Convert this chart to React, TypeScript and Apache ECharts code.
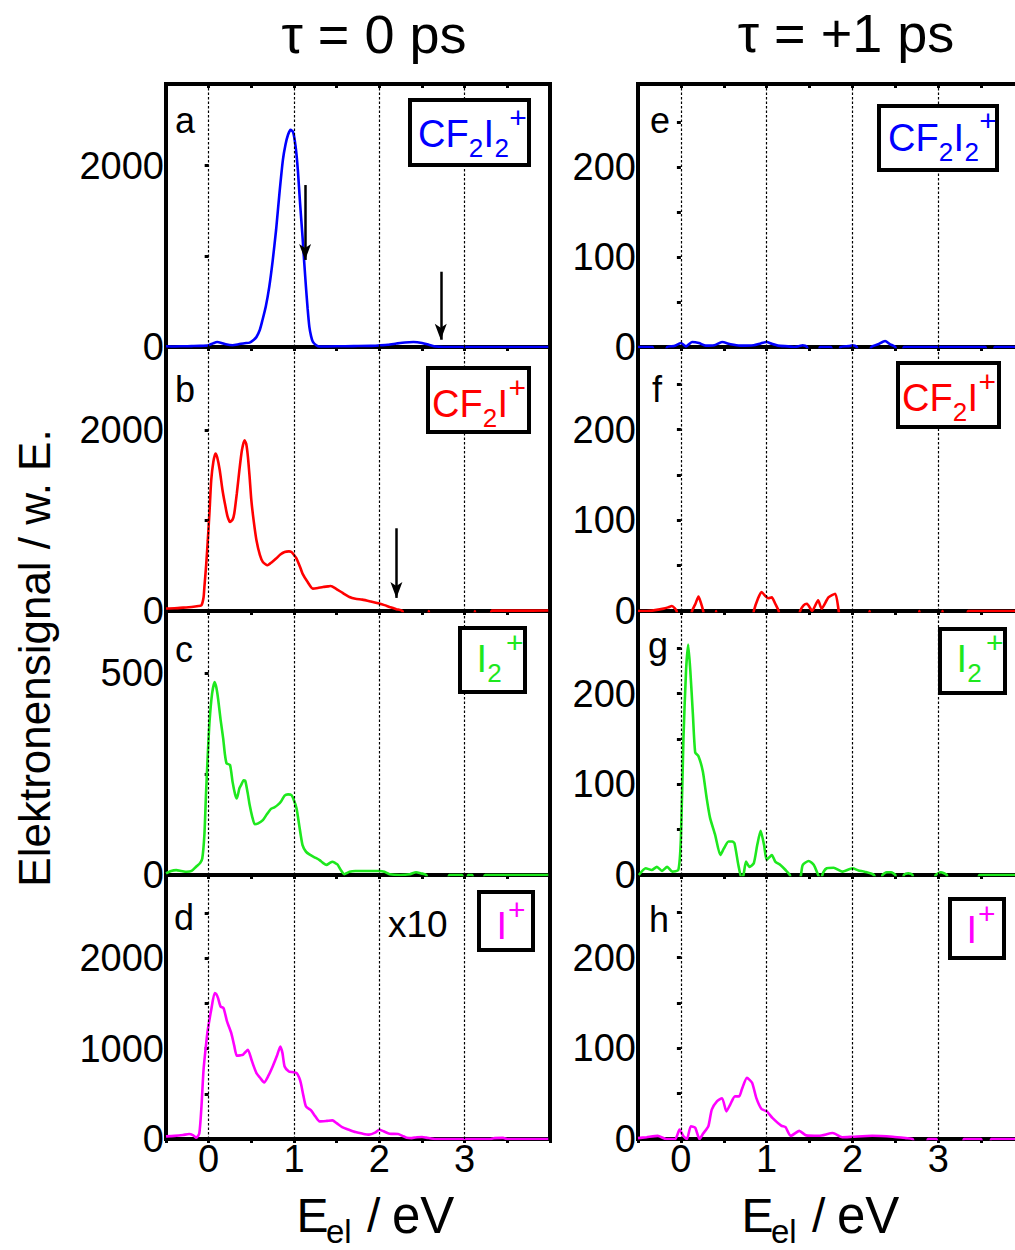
import React, { useEffect, useRef } from 'react';
import * as echarts from 'echarts';

type P = [number, number];

// ---------- data ----------
const xTickValues = [0, 1, 2, 3];
const columnTitles = ['τ = 0 ps', 'τ = +1 ps'];
const panelLetters = ['a', 'b', 'c', 'd', 'e', 'f', 'g', 'h'];
const yMax = [2900, 2920, 655, 2920, 292, 291, 291, 291];
const yTickStep = [1000, 1000, 250, 500, 50, 50, 50, 50];
const yLabelStep = [2000, 2000, 500, 1000, 100, 100, 100, 100];
const ionColors = ['#0000ff', '#ff0000', '#1ee81e', '#ff00ff'];
const scaleNote = 'x10';

// tau = 0 ps
const cf2i2_0: P[] = [
  [-0.5, 8], [-0.4, 6], [-0.3, 8], [-0.2, 10], [-0.1, 12], [0, 20], [0.05, 40], [0.1, 55], [0.15, 45],
  [0.2, 30], [0.28, 20], [0.35, 30], [0.42, 42], [0.48, 48], [0.53, 80], [0.56, 110], [0.6, 190],
  [0.63, 295], [0.67, 450], [0.71, 663], [0.75, 950], [0.79, 1290], [0.83, 1700], [0.87, 2063],
  [0.9, 2230], [0.93, 2340], [0.96, 2395], [0.99, 2370], [1.02, 2200], [1.045, 1953], [1.07, 1600],
  [1.1, 1215], [1.12, 930], [1.14, 663], [1.16, 420], [1.18, 221], [1.2, 120], [1.22, 60], [1.26, 20],
  [1.3, 5], [1.5, 8], [1.7, 10], [1.9, 12], [2.0, 18], [2.1, 25], [2.2, 38], [2.3, 50], [2.4, 55],
  [2.5, 45], [2.58, 25], [2.66, 5], [2.75, 0], [3.0, 0], [3.5, 0], [3.98, 0],
];
const cf2i_0: P[] = [
  [-0.5, 27], [-0.4, 30], [-0.3, 37], [-0.2, 45], [-0.12, 55], [-0.085, 63], [-0.06, 150], [-0.05, 266],
  [-0.03, 500], [-0.01, 783], [0.01, 1100], [0.03, 1447], [0.055, 1650], [0.08, 1742], [0.1, 1700],
  [0.13, 1557], [0.16, 1350], [0.19, 1189], [0.22, 1050], [0.25, 985], [0.28, 1010], [0.3, 1078],
  [0.33, 1300], [0.36, 1557], [0.39, 1780], [0.42, 1889], [0.44, 1850], [0.46, 1705], [0.48, 1480],
  [0.5, 1225], [0.53, 980], [0.56, 783], [0.6, 620], [0.635, 542], [0.69, 506], [0.74, 540], [0.79, 580],
  [0.84, 625], [0.89, 653], [0.94, 660], [0.97, 653], [1.0, 620], [1.03, 580], [1.07, 490], [1.1, 414],
  [1.16, 320], [1.22, 248], [1.28, 255], [1.34, 266], [1.4, 272], [1.43, 277], [1.49, 248], [1.57, 200],
  [1.65, 155], [1.72, 135], [1.8, 126], [1.9, 105], [2.0, 82], [2.06, 65], [2.12, 45], [2.2, 20],
  [2.27, 0], [2.32, -150], [2.55, -150], [2.58, 0], [2.61, -150], [3.09, -150], [3.12, 0], [3.15, -150],
  [3.28, -150], [3.32, 4], [3.6, 4], [3.98, 5],
];
const i2_0: P[] = [
  [-0.5, 4], [-0.44, 10], [-0.38, 12], [-0.32, 10], [-0.26, 8], [-0.2, 10], [-0.145, 21], [-0.1, 30],
  [-0.075, 41], [-0.05, 100], [-0.03, 207], [-0.01, 300], [0.01, 380], [0.04, 450], [0.07, 479],
  [0.09, 465], [0.11, 438], [0.14, 385], [0.17, 339], [0.19, 300], [0.21, 277], [0.25, 273], [0.28, 231],
  [0.31, 200], [0.33, 190], [0.36, 215], [0.38, 223], [0.41, 235], [0.43, 233], [0.46, 200], [0.48, 174],
  [0.51, 145], [0.54, 126], [0.58, 128], [0.635, 136], [0.68, 150], [0.73, 164], [0.77, 168], [0.81, 174],
  [0.85, 183], [0.89, 197], [0.93, 200], [0.97, 198], [1.0, 185], [1.03, 165], [1.06, 125], [1.1, 74],
  [1.14, 58], [1.18, 51], [1.24, 44], [1.3, 37], [1.34, 30], [1.38, 25], [1.42, 30], [1.45, 33],
  [1.48, 30], [1.51, 26], [1.55, 12], [1.59, 2], [1.65, 8], [1.72, 10], [1.85, 10], [2.0, 10], [2.06, 8],
  [2.12, 2], [2.24, 0], [2.36, 2], [2.43, 7], [2.49, 4], [2.55, 0], [2.6, -30], [2.78, -30], [2.82, 0],
  [2.97, 0], [3.0, -30], [3.02, -30], [3.04, 0], [3.09, 0], [3.12, -30], [3.2, -30], [3.24, 0], [3.98, 0],
];
const i_0_x10: P[] = [
  [-0.5, 29], [-0.4, 35], [-0.3, 45], [-0.23, 55], [-0.18, 40], [-0.145, 15], [-0.11, 60], [-0.085, 350],
  [-0.06, 766], [-0.03, 1050], [-0.01, 1208], [0.03, 1429], [0.07, 1613], [0.09, 1600], [0.11, 1558],
  [0.14, 1465], [0.175, 1447], [0.215, 1300], [0.265, 1171], [0.3, 1030], [0.33, 920], [0.37, 925],
  [0.4, 931], [0.43, 960], [0.46, 987], [0.5, 882], [0.53, 800], [0.56, 729], [0.6, 680], [0.65, 626],
  [0.7, 700], [0.75, 802], [0.8, 920], [0.84, 1023], [0.865, 950], [0.89, 802], [0.94, 747], [0.98, 740],
  [1.03, 729], [1.06, 680], [1.08, 619], [1.11, 480], [1.14, 360], [1.2, 316], [1.25, 250], [1.3, 195],
  [1.38, 200], [1.45, 206], [1.5, 175], [1.57, 128], [1.65, 100], [1.72, 77], [1.8, 60], [1.88, 48],
  [1.95, 70], [2.0, 103], [2.05, 85], [2.12, 59], [2.22, 55], [2.27, 35], [2.32, 15], [2.38, 10],
  [2.44, 20], [2.5, 22], [2.55, 15], [2.66, 0], [3.3, 0], [3.35, 10], [3.45, 12], [3.5, 0], [3.98, 0],
];

// tau = +1 ps
const cf2i2_1: P[] = [
  [-0.5, 0], [-0.33, 0], [-0.3, -12], [-0.2, -12], [-0.16, 0], [-0.08, 1], [0, 4.4], [0.06, 0.7],
  [0.13, 5.5], [0.21, 4.4], [0.29, 1.5], [0.39, 2], [0.48, 5.5], [0.58, 3], [0.69, 1.5], [0.85, 2],
  [0.93, 4], [1.0, 5.5], [1.06, 3.5], [1.13, 1.5], [1.25, 0.7], [1.32, 0], [1.38, 1], [1.42, 2],
  [1.47, 0], [1.5, -12], [1.6, -12], [1.62, 0], [1.75, 0], [1.78, -12], [1.84, -12], [1.86, 0],
  [1.96, 1], [2.0, 2], [2.05, 0], [2.08, -12], [2.18, -12], [2.22, 0], [2.3, 3], [2.38, 6.7], [2.44, 3],
  [2.5, 0], [2.52, -12], [2.58, -12], [2.6, 0], [3.55, 0], [3.57, -12], [3.64, -12], [3.66, 0], [3.98, 0],
];
const cf2i_1: P[] = [
  [-0.5, 0], [-0.4, 0], [-0.3, 1], [-0.2, 2.6], [-0.15, 4], [-0.105, 5.5], [-0.07, 3], [-0.05, 0],
  [-0.03, -12], [0.1, -12], [0.13, 0], [0.17, 8], [0.205, 16], [0.23, 10], [0.26, 0], [0.28, -12],
  [0.39, -12], [0.41, 0], [0.43, -12], [0.83, -12], [0.85, 0], [0.9, 14], [0.94, 21], [0.98, 17],
  [1.02, 14], [1.06, 15], [1.1, 8], [1.14, 0], [1.16, -12], [1.36, -12], [1.39, 0], [1.43, 6.3],
  [1.47, 8], [1.53, 0], [1.6, 11.8], [1.64, 2.6], [1.72, 15], [1.8, 19], [1.84, 0], [1.86, -12],
  [2.17, -12], [2.2, 0], [2.23, -12], [2.76, -12], [2.78, 0], [2.8, -12], [3.03, -12], [3.05, 0],
  [3.07, -12], [3.33, -12], [3.35, 0], [3.98, 0],
];
const i2_1: P[] = [
  [-0.49, 0], [-0.41, 7.4], [-0.34, 5.5], [-0.28, 9], [-0.22, 4.4], [-0.16, 9], [-0.1, 3.7], [-0.03, 5.5],
  [0.0, 40], [0.03, 151], [0.06, 225], [0.085, 254], [0.11, 225], [0.14, 177], [0.167, 135], [0.205, 131],
  [0.256, 114], [0.3, 85], [0.34, 63], [0.4, 44], [0.46, 22], [0.5, 29], [0.555, 37], [0.6, 37],
  [0.625, 35], [0.67, 11], [0.71, -5], [0.73, 0], [0.76, 14.7], [0.8, 9], [0.85, 13], [0.89, 33],
  [0.93, 48.6], [0.97, 33], [1.0, 16.6], [1.06, 22], [1.1, 14.7], [1.16, 11], [1.22, 5.5], [1.27, 0],
  [1.3, -12], [1.37, -12], [1.4, 0], [1.42, 11], [1.49, 15.5], [1.55, 11], [1.6, 0], [1.63, -5],
  [1.66, 3], [1.7, 7.4], [1.78, 8], [1.88, 3.7], [2.0, 7.4], [2.07, 5], [2.14, 3.7], [2.25, 0],
  [2.3, -12], [2.33, -12], [2.35, 0], [2.4, 3], [2.45, 3], [2.5, 0], [2.52, -12], [2.58, -12], [2.6, 0],
  [2.65, 2], [2.7, 0], [2.72, -12], [2.94, -12], [2.97, 0], [3.03, 3], [3.1, 0], [3.12, -12],
  [3.45, -12], [3.48, 0], [3.98, 0],
];
const i_1: P[] = [
  [-0.5, 1], [-0.4, 2], [-0.27, 3.4], [-0.17, 0], [-0.066, 0], [-0.016, 10.3], [0.03, 3], [0.07, 0],
  [0.116, 14], [0.167, 12.5], [0.217, 0], [0.26, 6], [0.32, 14], [0.36, 32.4], [0.42, 41.5], [0.48, 45],
  [0.53, 30.5], [0.575, 38], [0.63, 47], [0.68, 47], [0.71, 54.5], [0.77, 67.4], [0.83, 62], [0.88, 45],
  [0.94, 33], [1.0, 30.5], [1.07, 23], [1.17, 14.7], [1.22, 13], [1.28, 3.4], [1.38, 9], [1.46, 4],
  [1.61, 3.5], [1.77, 6.6], [1.88, 2], [2.0, 2.5], [2.23, 3.5], [2.47, 2.5], [2.62, 1], [2.7, 0],
  [2.75, -12], [2.85, -12], [2.88, 0], [2.98, 0], [3.0, -12], [3.28, -12], [3.3, 0], [3.5, 0],
  [3.52, -12], [3.6, -12], [3.62, 0], [3.98, 0],
];

const panelData: P[][] = [cf2i2_0, cf2i_0, i2_0, i_0_x10, cf2i2_1, cf2i_1, i2_1, i_1];

// arrows in panel a and b: [E, top value, tip value]
const arrowsA: number[][] = [[1.13, 1786, 960], [2.72, 830, 80]];
const arrowsB: number[][] = [[2.2, 915, 145]];

// ion labels: pieces of formula (text, kind)
type Piece = { t: string; k: 'm' | 'sub' | 'sup'; dx: number };
const fCF2I2: Piece[] = [
  { t: 'CF', k: 'm', dx: -2 }, { t: '2', k: 'sub', dx: 48.8 }, { t: 'I', k: 'm', dx: 63.5 },
  { t: '2', k: 'sub', dx: 74.5 }, { t: '+', k: 'sup', dx: 89.3 },
];
const fCF2I: Piece[] = [
  { t: 'CF', k: 'm', dx: -2 }, { t: '2', k: 'sub', dx: 48.8 }, { t: 'I', k: 'm', dx: 63.5 },
  { t: '+', k: 'sup', dx: 74.5 },
];
const fI2: Piece[] = [
  { t: 'I', k: 'm', dx: -3.6 }, { t: '2', k: 'sub', dx: 7.2 }, { t: '+', k: 'sup', dx: 26 },
];
const fI: Piece[] = [{ t: 'I', k: 'm', dx: -3.6 }, { t: '+', k: 'sup', dx: 8 }];
const formulas = [fCF2I2, fCF2I, fI2, fI];

// ---------- layout ----------
const FONT = '"Liberation Sans", Arial, Helvetica, sans-serif';
const colLeft = [166, 638];
const colWidth = [384, 386];
const rowTop = [84, 347, 611, 875];
const rowHeight = [263, 264, 264, 264];
const legendBox = [
  [408, 98, 123, 69], [426, 366, 105, 68], [458, 626, 69, 68], [477, 890, 58, 62],
  [877, 104, 122, 68], [896, 361, 105, 68], [938, 627, 69, 68], [948, 897, 58, 63],
];
const legendX = [420, 434, 480, 500, 890, 904, 960, 970];
const legendY = [134, 404, 659, 926, 137.5, 398, 659, 930];
const letterPos = [
  [175, 133], [175, 402], [175, 662], [174, 930], [650, 133], [652, 402], [648, 658], [649, 932],
];

function fontAvailable(name: string): boolean {
  try {
    const c = document.createElement('canvas').getContext('2d');
    if (!c) return false;
    const s = 'mmmmmmmmmmlli 2000 WWW';
    c.font = '40px monospace';
    const w1 = c.measureText(s).width;
    c.font = `40px "${name}", monospace`;
    const w2 = c.measureText(s).width;
    return Math.abs(w1 - w2) > 0.5;
  } catch (e) {
    return false;
  }
}

function txt(text: string, x: number, y: number, size: number, color: string, align = 'left', extra: any = {}) {
  return {
    type: 'text',
    x,
    y,
    z: 110,
    silent: true,
    ...extra,
    style: {
      text,
      fill: color,
      fontSize: size,
      fontFamily: FONT,
      textAlign: align,
      textVerticalAlign: 'middle',
      verticalAlign: 'middle',
    },
  };
}

function buildOption() {
  const narrow = fontAvailable('Liberation Sans Narrow');
  const tickFont = narrow ? '"Liberation Sans Narrow", "Liberation Sans", Arial, sans-serif' : FONT;
  const tickSize = narrow ? 46 : 38;

  const grids: any[] = [];
  const xAxes: any[] = [];
  const xTopAxes: any[] = [];
  const yAxes: any[] = [];
  const series: any[] = [];

  for (let g = 0; g < 8; g++) {
    const col = g < 4 ? 0 : 1;
    const row = g % 4;
    grids.push({
      left: colLeft[col], top: rowTop[row], width: colWidth[col], height: rowHeight[row],
      show: true, borderColor: '#000', borderWidth: 4, backgroundColor: 'transparent',
    });
    const tick = { show: true, length: 4, lineStyle: { color: '#000', width: 3 } };
    xAxes.push({
      type: 'value', gridIndex: g, position: 'bottom', min: -0.5, max: 4, interval: 0.5,
      axisLine: { show: false }, axisTick: tick, splitLine: { show: false },
      axisLabel: row === 3 ? {
        show: true, color: '#000', fontSize: tickSize, fontFamily: tickFont, margin: narrow ? 0 : 1,
        formatter: (v: number) => (xTickValues.some((t) => Math.abs(t - v) < 1e-6) ? String(Math.round(v)) : ''),
      } : { show: false },
    });
    xTopAxes.push({
      type: 'value', gridIndex: g, position: 'top', min: -0.5, max: 4, interval: 0.5,
      axisLine: { show: false }, axisTick: { ...tick, inside: true }, splitLine: { show: false }, axisLabel: { show: false },
    });
    const step = yLabelStep[g];
    yAxes.push({
      type: 'value', gridIndex: g, position: 'left', min: 0, max: yMax[g], interval: yTickStep[g],
      axisLine: { show: false }, axisTick: tick, splitLine: { show: false },
      axisLabel: {
        show: true, color: '#000', fontSize: tickSize, fontFamily: tickFont, margin: 2,
        formatter: (v: number) => (Math.abs(v / step - Math.round(v / step)) < 1e-6 ? String(v) : ''),
      },
    });
    const color = ionColors[row];
    const ml: any[] = xTickValues.map((x) => ({
      xAxis: x, symbol: 'none', lineStyle: { color: '#000', type: [2.5, 2], width: 1.2 },
    }));
    const arrows = g === 0 ? arrowsA : g === 1 ? arrowsB : [];
    arrows.forEach(([x, y0, y1]) => {
      ml.push([
        { coord: [x, y0], symbol: 'none', lineStyle: { color: '#000', width: 2.5, type: 'solid' } },
        { coord: [x, y1], symbol: 'arrow', symbolSize: [9, 16] },
      ]);
    });
    series.push({
      type: 'line', xAxisIndex: g, yAxisIndex: g, data: panelData[g], showSymbol: false, symbol: 'none',
      smooth: 0.2, clip: true, z: 3, lineStyle: { color, width: 2.6 }, itemStyle: { color },
      emphasis: { disabled: true },
      markLine: {
        silent: true, symbol: ['none', 'none'], label: { show: false }, emphasis: { disabled: true },
        animation: false, itemStyle: { color: '#000' }, data: ml,
      },
    });
  }

  const elements: any[] = [];
  // column titles
  elements.push(txt(columnTitles[0], 374, 34, 54, '#000', 'center'));
  elements.push(txt(columnTitles[1], 846, 33, 54, '#000', 'center'));
  // y axis title
  elements.push(txt('Elektronensignal / w. E.', 34, 658, 44, '#000', 'center', { rotation: Math.PI / 2 }));
  // x axis titles
  [300, 745].forEach((X) => {
    elements.push(txt('E', X - 3.5, 1215, 48, '#000'));
    elements.push(txt('el', X + 26, 1231, 33, '#000'));
    elements.push(txt('/', X + 67, 1215, 48, '#000'));
    elements.push(txt('eV', X + 92, 1215, 51, '#000'));
  });
  // panel letters
  panelLetters.forEach((l, i) => {
    elements.push(txt(l, letterPos[i][0], letterPos[i][1] - 12.5, 36, '#000'));
  });
  elements.push(txt(scaleNote, 388, 924, 37, '#000'));
  // legend boxes
  for (let g = 0; g < 8; g++) {
    const [bx, by, bw, bh] = legendBox[g];
    elements.push({
      type: 'rect', z: 100, silent: true,
      shape: { x: bx + 2, y: by + 2, width: bw - 4, height: bh - 4 },
      style: { fill: '#fff', stroke: '#000', lineWidth: 4 },
    });
    const color = ionColors[g % 4];
    formulas[g % 4].forEach((p) => {
      const size = p.k === 'm' ? 38 : p.k === 'sub' ? 26 : 30;
      const dy = p.k === 'm' ? 0 : p.k === 'sub' ? 14 : -17;
      elements.push(txt(p.t, legendX[g] + p.dx, legendY[g] + dy, size, color));
    });
  }

  return {
    animation: false,
    backgroundColor: '#fff',
    grid: grids,
    xAxis: [...xAxes, ...xTopAxes],
    yAxis: yAxes,
    series,
    graphic: { elements },
  };
}

export default function App() {
  const ref = useRef<HTMLDivElement>(null);
  useEffect(() => {
    if (!ref.current) return;
    const chart = echarts.init(ref.current, undefined, { renderer: 'svg' });
    chart.setOption(buildOption() as any);
    return () => chart.dispose();
  }, []);
  return (
    <div style={{ position: 'absolute', left: 0, top: 0, width: 1015, height: 1250, overflow: 'hidden', background: '#fff' }}>
      <div ref={ref} style={{ width: 1030, height: 1250 }} />
    </div>
  );
}
